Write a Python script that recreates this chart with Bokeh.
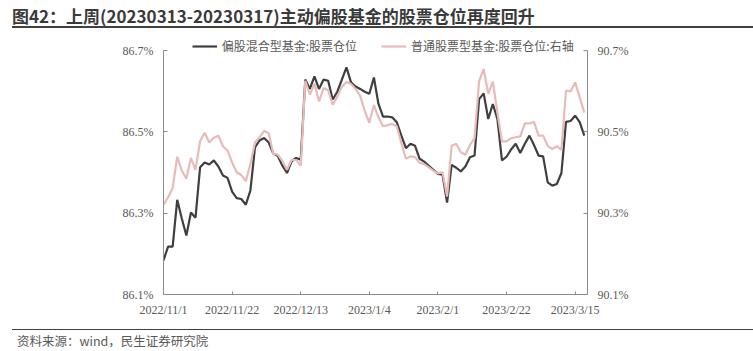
from bokeh.plotting import figure
from bokeh.layouts import column
from bokeh.models import (Range1d, LinearAxis, FixedTicker, PrintfTickFormatter,
                          Legend, LegendItem, Div)
from bokeh.embed import file_html
from bokeh.resources import INLINE

dates = [
    "2022/11/1", "2022/11/2", "2022/11/3", "2022/11/4", "2022/11/7", "2022/11/8", "2022/11/9",
    "2022/11/10", "2022/11/11", "2022/11/14", "2022/11/15", "2022/11/16", "2022/11/17",
    "2022/11/18", "2022/11/21", "2022/11/22", "2022/11/23", "2022/11/24", "2022/11/25",
    "2022/11/28", "2022/11/29", "2022/11/30",
    "2022/12/1", "2022/12/2", "2022/12/5", "2022/12/6", "2022/12/7", "2022/12/8", "2022/12/9",
    "2022/12/12", "2022/12/13", "2022/12/14", "2022/12/15", "2022/12/16", "2022/12/19",
    "2022/12/20", "2022/12/21", "2022/12/22", "2022/12/23", "2022/12/26", "2022/12/27",
    "2022/12/28", "2022/12/29", "2022/12/30",
    "2023/1/3", "2023/1/4", "2023/1/5", "2023/1/6", "2023/1/9", "2023/1/10", "2023/1/11",
    "2023/1/12", "2023/1/13", "2023/1/16", "2023/1/17", "2023/1/18", "2023/1/19", "2023/1/20",
    "2023/1/30", "2023/1/31",
    "2023/2/1", "2023/2/2", "2023/2/3", "2023/2/6", "2023/2/7", "2023/2/8", "2023/2/9",
    "2023/2/10", "2023/2/13", "2023/2/14", "2023/2/15", "2023/2/16", "2023/2/17", "2023/2/20",
    "2023/2/21", "2023/2/22", "2023/2/23", "2023/2/24", "2023/2/27", "2023/2/28",
    "2023/3/1", "2023/3/2", "2023/3/3", "2023/3/6", "2023/3/7", "2023/3/8", "2023/3/9",
    "2023/3/10", "2023/3/13", "2023/3/14", "2023/3/15", "2023/3/16", "2023/3/17",
]

# 偏股混合型基金:股票仓位 (left axis, %)
hybrid_equity = [
    86.184, 86.218, 86.218, 86.333, 86.287, 86.245, 86.302, 86.289, 86.413, 86.425,
    86.420, 86.430, 86.415, 86.393, 86.387, 86.353, 86.337, 86.335, 86.321, 86.356,
    86.462, 86.479, 86.485, 86.474, 86.447, 86.441, 86.417, 86.399, 86.428, 86.436,
    86.432, 86.629, 86.606, 86.637, 86.606, 86.629, 86.626, 86.580, 86.599, 86.629,
    86.659, 86.622, 86.612, 86.606, 86.599, 86.594, 86.634, 86.569, 86.538, 86.538,
    86.536, 86.524, 86.491, 86.460, 86.471, 86.466, 86.434, 86.427, 86.417, 86.407,
    86.397, 86.395, 86.326, 86.419, 86.412, 86.403, 86.415, 86.438, 86.442, 86.581,
    86.595, 86.532, 86.569, 86.532, 86.430, 86.439, 86.457, 86.471, 86.448, 86.471,
    86.491, 86.468, 86.442, 86.440, 86.376, 86.368, 86.372, 86.399, 86.525, 86.527,
    86.540, 86.524, 86.491,
]

# 普通股票型基金:股票仓位 (right axis, %)
stock_fund = [
    90.321, 90.339, 90.362, 90.439, 90.405, 90.385, 90.436, 90.407, 90.477, 90.498,
    90.474, 90.486, 90.491, 90.465, 90.454, 90.425, 90.401, 90.394, 90.379, 90.421,
    90.474, 90.487, 90.503, 90.497, 90.446, 90.444, 90.428, 90.407, 90.431, 90.431,
    90.417, 90.626, 90.592, 90.619, 90.575, 90.608, 90.603, 90.567, 90.587, 90.611,
    90.623, 90.618, 90.606, 90.589, 90.552, 90.523, 90.566, 90.536, 90.514, 90.517,
    90.520, 90.514, 90.473, 90.434, 90.440, 90.438, 90.424, 90.421, 90.413, 90.405,
    90.398, 90.401, 90.341, 90.466, 90.471, 90.450, 90.444, 90.468, 90.484, 90.625,
    90.655, 90.594, 90.624, 90.548, 90.477, 90.477, 90.485, 90.487, 90.489, 90.521,
    90.521, 90.525, 90.491, 90.491, 90.466, 90.458, 90.465, 90.456, 90.602, 90.600,
    90.622, 90.585, 90.548,
]

x_tick_index = [0, 15, 30, 45, 60, 75, 90]
left_ticks = [86.1, 86.3, 86.5, 86.7]
right_ticks = [90.1, 90.3, 90.5, 90.7]

series_names = ["偏股混合型基金:股票仓位", "普通股票型基金:股票仓位:右轴"]
title_text = "图42：上周(20230313-20230317)主动偏股基金的股票仓位再度回升"
source_text = "资料来源：wind，民生证券研究院"

DARK = "#3f3f3f"
PINK = "#e9baba"
AXIS = "#8c8c8c"
LABEL = "#595959"

xs = list(range(len(dates)))

# frame spans canvas y 36..294; the axes themselves are bounded to 86.1..86.7 / 90.1..90.7,
# the extra headroom above holds the legend
p = figure(width=753, height=299,
           min_border_left=163, min_border_right=166, min_border_top=6, min_border_bottom=35,
           x_range=Range1d(0, 92.7), y_range=Range1d(86.1, 86.735),
           output_backend="svg", toolbar_location=None, tools="",
           background_fill_color="white", border_fill_color="white", margin=0)
p.extra_y_ranges = {"right": Range1d(90.1, 90.735)}
p.outline_line_color = None
p.xgrid.visible = False
p.ygrid.visible = False

r_dark = p.line(xs, hybrid_equity, line_color=DARK, line_width=2.2)
r_pink = p.line(xs, stock_fund, line_color=PINK, line_width=2.2, y_range_name="right")

right_axis = LinearAxis(y_range_name="right")
p.add_layout(right_axis, "right")

p.xaxis.ticker = FixedTicker(ticks=x_tick_index)
p.xaxis.major_label_overrides = {i: dates[i] for i in x_tick_index}
p.yaxis[0].ticker = FixedTicker(ticks=left_ticks)
p.yaxis[0].formatter = PrintfTickFormatter(format="%.1f%%")
p.yaxis[0].bounds = (left_ticks[0], left_ticks[-1])
right_axis.ticker = FixedTicker(ticks=right_ticks)
right_axis.formatter = PrintfTickFormatter(format="%.1f%%")
right_axis.bounds = (right_ticks[0], right_ticks[-1])

for ax in [p.xaxis[0], p.yaxis[0], right_axis]:
    ax.axis_line_color = AXIS
    ax.axis_line_width = 1
    ax.major_tick_line_color = AXIS
    ax.minor_tick_line_color = None
    ax.major_tick_out = 0
    ax.major_tick_in = 4
    ax.major_label_text_font = "Liberation Serif"
    ax.major_label_text_font_size = "12px"
    ax.major_label_text_color = LABEL
p.yaxis[0].major_label_standoff = 10
right_axis.major_label_standoff = 10
p.xaxis[0].major_label_standoff = 8
p.xaxis[0].major_tick_in = 3

legend = Legend(items=[LegendItem(label=series_names[0], renderers=[r_dark]),
                       LegendItem(label=series_names[1], renderers=[r_pink])],
                orientation="horizontal", location=(28.7, 240),
                padding=0, margin=0, spacing=24, glyph_width=25, glyph_height=14,
                label_height=14, label_standoff=5,
                label_text_font="Noto Sans CJK SC", label_text_font_size="12px",
                label_text_color=LABEL, border_line_color=None, background_fill_alpha=0)
p.add_layout(legend)

title_html = (
    '<div style="margin:0 0 0 12px; width:741px; height:28px; line-height:31px; '
    'border-bottom:2px solid #404040; font-family:\'Noto Sans CJK SC\'; font-weight:bold; '
    'font-size:17px; color:#3a3a3a; white-space:nowrap; overflow:hidden;">'
    + title_text + '</div>'
)
footer_html = (
    '<div style="margin:0 0 0 12px; width:741px; height:21px; line-height:22px; '
    'border-top:1px solid #404040; padding-left:5px; font-family:\'Noto Sans CJK SC\'; '
    'font-size:12.5px; color:#595959; white-space:nowrap; overflow:hidden;">'
    + source_text + '</div>'
)
title_div = Div(text=title_html, width=753, height=30, margin=0)
footer_div = Div(text=footer_html, width=753, height=22, margin=0)

layout = column(title_div, p, footer_div, spacing=0, margin=0)

open("out.html", "w").write(file_html(layout, INLINE))
